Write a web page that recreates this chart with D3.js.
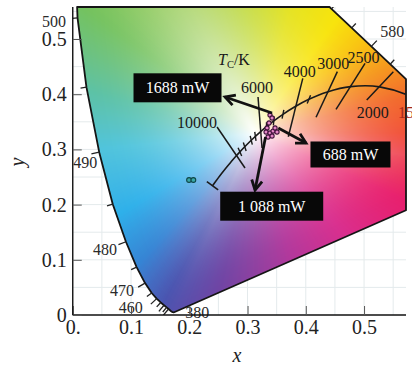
<!DOCTYPE html>
<html>
<head>
<meta charset="utf-8">
<script src="https://cdn.jsdelivr.net/npm/d3@7"></script>
<style>
  body { margin: 0; background: #fff; }
  svg { display: block; font-family: "Liberation Serif", "Times New Roman", serif; }
</style>
</head>
<body>
<div id="root"><svg width="412" height="367"></svg></div>
<script>
// CIE 1931 spectral locus (2 deg observer)
const locusNm = [380, 400, 420, 430, 440, 445, 450, 455, 460, 465, 470, 475, 480, 485, 490, 495, 500, 505, 510, 515,
  520, 525, 530, 535, 540, 545, 550, 555, 560, 565, 570, 575, 580, 585, 590, 595, 600, 605, 610, 615, 620, 630, 640, 650, 700];
const locusX = [0.1741, 0.1733, 0.1714, 0.1689, 0.1644, 0.1611, 0.1566, 0.1510, 0.1440, 0.1355, 0.1241, 0.1096, 0.0913, 0.0687, 0.0454, 0.0235, 0.0082, 0.0039, 0.0139, 0.0389,
  0.0743, 0.1142, 0.1547, 0.1929, 0.2296, 0.2658, 0.3016, 0.3373, 0.3731, 0.4087, 0.4441, 0.4788, 0.5125, 0.5448, 0.5752, 0.6029, 0.6270, 0.6482, 0.6658, 0.6801, 0.6915, 0.7079, 0.7190, 0.7260, 0.7347];
const locusY = [0.0050, 0.0048, 0.0051, 0.0069, 0.0109, 0.0138, 0.0177, 0.0227, 0.0297, 0.0399, 0.0578, 0.0868, 0.1327, 0.2007, 0.2950, 0.4127, 0.5384, 0.6548, 0.7502, 0.8120,
  0.8338, 0.8262, 0.8059, 0.7816, 0.7543, 0.7243, 0.6923, 0.6589, 0.6245, 0.5896, 0.5547, 0.5202, 0.4866, 0.4544, 0.4242, 0.3965, 0.3725, 0.3514, 0.3340, 0.3197, 0.3083, 0.2920, 0.2809, 0.2740, 0.2653];
const locusLabels = [380, 460, 470, 480, 490, 500, 580];

// Planckian locus
const planckT = [1000, 1500, 2000, 2500, 3000, 3500, 4000, 4500, 5000, 5500, 6000, 6500, 7000, 8000, 9000, 10000, 12000, 15000, 20000, 30000, Infinity];
const planckX = [0.6528, 0.5857, 0.5267, 0.4770, 0.4369, 0.4053, 0.3805, 0.3608, 0.3451, 0.3325, 0.3221, 0.3135, 0.3064, 0.2952, 0.2869, 0.2807, 0.2719, 0.2637, 0.2565, 0.2498, 0.2399];
const planckY = [0.3444, 0.3931, 0.4133, 0.4137, 0.4041, 0.3907, 0.3768, 0.3636, 0.3516, 0.3411, 0.3318, 0.3237, 0.3166, 0.3048, 0.2956, 0.2884, 0.2776, 0.2673, 0.2577, 0.2484, 0.2342];
const minorTemps = [3500, 4500, 5000, 5500, 6500, 7000, 8000, 9000];

// isotherm segments (lower end, upper end)
const isoTemps = ['10000', '6000', '4000', '3000', '2500', '2000'];
const isoX1 = [0.2957, 0.3249, 0.3700, 0.4176, 0.4519, 0.5046];
const isoY1 = [0.2663, 0.3025, 0.3230, 0.3582, 0.3726, 0.3895];
const isoX2 = [0.2477, 0.3180, 0.3948, 0.4542, 0.5017, 0.5503];
const isoY2 = [0.3406, 0.3949, 0.4288, 0.4408, 0.4560, 0.4408];

// measured points
const pinkX = [0.3386, 0.3421, 0.3369, 0.3335, 0.3318, 0.3386, 0.3438, 0.3472, 0.3506, 0.3352, 0.3421];
const pinkY = [0.3623, 0.3569, 0.3478, 0.3388, 0.3315, 0.3297, 0.3333, 0.3388, 0.3315, 0.3225, 0.3243];
const cyanX = [0.1996, 0.2070];
const cyanY = [0.2446, 0.2446];

// power callouts
const calloutText = ['1688 mW', '688 mW', '1 088 mW'];
const calloutX = [0.1798, 0.4767, 0.3415];
const calloutY = [0.4116, 0.2908, 0.1971];
const arrowFromX = [0.3421, 0.3528, 0.3309];
const arrowFromY = [0.3659, 0.3388, 0.3225];
const arrowToX = [0.2614, 0.4004, 0.3129];
const arrowToY = [0.3949, 0.3116, 0.2264];

const xTicks = [0, 0.1, 0.2, 0.3, 0.4, 0.5];
const xTickLabels = ['0.', '0.1', '0.2', '0.3', '0.4', '0.5'];
const yTicks = [0, 0.1, 0.2, 0.3, 0.4, 0.5];
const yTickLabels = ['0', '0.1', '0.2', '0.3', '0.4', '0.5'];

const xMax = 0.572, yMax = 0.558;
const pL = 72.75, pR = 406, pT = 7, pB = 315;

const svg = d3.select('#root svg');
const x = d3.scaleLinear().domain([0, xMax]).range([pL, pR]);
const y = d3.scaleLinear().domain([0, yMax]).range([pB, pT]);

const locus = locusNm.map((d, i) => ({nm: d, x: locusX[i], y: locusY[i]}));
const planck = planckT.map((d, i) => ({t: d, x: planckX[i], y: planckY[i]}));

svg.append('defs').append('clipPath').attr('id', 'plotclip')
  .append('rect').attr('x', pL).attr('y', pT).attr('width', pR - pL).attr('height', pB - pT);

// grid
const gridVals = d3.range(1, 12).map(k => k * 0.05);
const grid = svg.append('g').attr('stroke', '#e4eaec').attr('stroke-width', 1);
grid.selectAll('line.gx').data(gridVals.filter(v => v < xMax)).join('line').attr('class', 'gx')
  .attr('x1', d => x(d)).attr('x2', d => x(d)).attr('y1', pT).attr('y2', pB);
grid.selectAll('line.gy').data(gridVals.filter(v => v < yMax)).join('line').attr('class', 'gy')
  .attr('x1', pL).attr('x2', pR).attr('y1', d => y(d)).attr('y2', d => y(d));

// colour fill of the gamut
const wx = 0.3127, wy = 0.329;
const hueStops = [
  [0, '#f0452a'], [14, '#f2682a'], [28, '#f5981e'], [42, '#f9c412'], [56, '#f8e40c'], [75, '#e4e21c'],
  [95, '#bcd733'], [118, '#94c94a'], [142, '#74c25e'], [165, '#5cc2a6'], [186, '#50c4dc'], [212, '#2eb0ea'],
  [230, '#3584d4'], [243, '#4a54b0'], [258, '#7044a4'], [285, '#b2389c'], [310, '#d92e8e'], [335, '#e81e6c'],
  [350, '#ec2e44'], [360, '#f0452a']];
const hueBins = d3.range(720).map(k => {
  const a = k / 2;
  let j = 0;
  while (hueStops[j + 1][0] < a) j++;
  const s0 = hueStops[j], s1 = hueStops[j + 1];
  return d3.rgb(d3.interpolateLab(s0[1], s1[1])((a - s0[0]) / (s1[0] - s0[0])));
});
const edgeR = d3.range(720).map(k => {
  const a = k / 2 * Math.PI / 180, dx = Math.cos(a), dy = Math.sin(a);
  let best = Infinity;
  for (let i = 0; i < locus.length; i++) {
    const p = locus[i], q = locus[(i + 1) % locus.length];
    const ex = q.x - p.x, ey = q.y - p.y;
    const den = dx * ey - dy * ex;
    if (Math.abs(den) < 1e-12) continue;
    const ax = p.x - wx, ay = p.y - wy;
    const t = (ax * ey - ay * ex) / den;
    const u = (ax * dy - ay * dx) / den;
    if (t > 0 && u >= 0 && u <= 1) best = Math.min(best, t);
  }
  return best;
});
const polyPx = locus.map(d => [x(d.x), y(d.y)]);
const cv = document.createElement('canvas');
cv.width = 412; cv.height = 367;
const ctx = cv.getContext('2d');
const img = ctx.createImageData(412, 367);
for (let py = Math.floor(pT); py < pB; py++) {
  for (let px = Math.floor(pL); px < pR; px++) {
    if (!d3.polygonContains(polyPx, [px + 0.5, py + 0.5])) continue;
    const dx = x.invert(px + 0.5) - wx, dy = y.invert(py + 0.5) - wy;
    let ang = Math.atan2(dy, dx) * 180 / Math.PI;
    if (ang < 0) ang += 360;
    const bin = Math.round(ang * 2) % 720;
    const s = Math.min(1, Math.hypot(dx, dy) / edgeR[bin]);
    const t = 1 - (1 - s) * (1 - s);
    const c = hueBins[bin];
    const o = (py * 412 + px) * 4;
    img.data[o] = 255 * (1 - t) + c.r * t;
    img.data[o + 1] = 255 * (1 - t) + c.g * t;
    img.data[o + 2] = 255 * (1 - t) + c.b * t;
    img.data[o + 3] = 255;
  }
}
ctx.putImageData(img, 0, 0);
svg.append('image').attr('href', cv.toDataURL()).attr('x', 0).attr('y', 0).attr('width', 412).attr('height', 367)
  .attr('clip-path', 'url(#plotclip)');

// outline of the clipped gamut
function clipEdge(pts, inside, cut) {
  const out = [];
  pts.forEach((p, i) => {
    const q = pts[(i + 1) % pts.length];
    const pin = inside(p), qin = inside(q);
    if (pin) out.push(p);
    if (pin !== qin) out.push(cut(p, q));
  });
  return out;
}
let outline = locus.map(d => [d.x, d.y]);
outline = clipEdge(outline, p => p[1] <= yMax, (p, q) => { const k = (yMax - p[1]) / (q[1] - p[1]); return [p[0] + k * (q[0] - p[0]), yMax]; });
outline = clipEdge(outline, p => p[0] <= xMax, (p, q) => { const k = (xMax - p[0]) / (q[0] - p[0]); return [xMax, p[1] + k * (q[1] - p[1])]; });
svg.append('path')
  .attr('d', d3.line().x(d => x(d[0])).y(d => y(d[1]))(outline) + 'Z')
  .attr('fill', 'none').attr('stroke', '#151515').attr('stroke-width', 1.8).attr('stroke-linejoin', 'round');

// wavelength ticks
const wl = svg.append('g').attr('clip-path', 'url(#plotclip)');
const wlTicks = [];
locus.forEach((d, i) => {
  if (d.nm < 440 || d.nm > 620 || d.nm % 5) return;
  const p0 = locus[i - 1], p1 = locus[i + 1];
  const tx = x(p1.x) - x(p0.x), ty = y(p1.y) - y(p0.y);
  const len = Math.hypot(tx, ty);
  let nx = ty / len, ny = -tx / len;
  const px = x(d.x), py = y(d.y);
  if (nx * (px - x(wx)) + ny * (py - y(wy)) < 0) { nx = -nx; ny = -ny; }
  const L = d.nm % 10 === 0 ? 8 : 6;
  wlTicks.push({x1: px, y1: py, x2: px + nx * L, y2: py + ny * L});
});
wl.selectAll('line').data(wlTicks).join('line')
  .attr('x1', d => d.x1).attr('y1', d => d.y1).attr('x2', d => d.x2).attr('y2', d => d.y2)
  .attr('stroke', '#222').attr('stroke-width', 1.3);

const nmLabelOffset = {380: [11, 6, 'start'], 460: [-14, 14.5, 'end'], 470: [-11, 13, 'end'], 480: [-9, 13.5, 'end'],
  490: [-2, 15.5, 'end'], 500: [-11.5, 9, 'end'], 580: [9, -9, 'start']};
svg.append('g').selectAll('text').data(locus.filter(d => locusLabels.includes(d.nm))).join('text')
  .attr('x', d => x(d.x) + nmLabelOffset[d.nm][0])
  .attr('y', d => y(d.y) + nmLabelOffset[d.nm][1])
  .attr('text-anchor', d => nmLabelOffset[d.nm][2])
  .attr('font-size', 16).attr('fill', '#2a2a2a')
  .text(d => d.nm);

// Planckian locus
const pl = svg.append('g').attr('clip-path', 'url(#plotclip)');
pl.append('path')
  .attr('d', d3.line().x(d => x(d.x)).y(d => y(d.y)).curve(d3.curveCatmullRom.alpha(0.5))(planck))
  .attr('fill', 'none').attr('stroke', '#1a1a1a').attr('stroke-width', 1.6);

const toUV = (a, b) => { const d = -2 * a + 12 * b + 3; return [4 * a / d, 6 * b / d]; };
const toXY = (u, v) => { const d = 2 * u - 8 * v + 4; return [3 * u / d, 2 * v / d]; };
const minorTicks = minorTemps.map(T => {
  const i = planckT.indexOf(T);
  const a = toUV(planck[i - 1].x, planck[i - 1].y), b = toUV(planck[i + 1].x, planck[i + 1].y);
  const c = toUV(planck[i].x, planck[i].y);
  const tu = b[0] - a[0], tv = b[1] - a[1], tl = Math.hypot(tu, tv);
  const q = toXY(c[0] - tv / tl * 0.01, c[1] + tu / tl * 0.01);
  const px = x(planck[i].x), py = y(planck[i].y);
  let dx = x(q[0]) - px, dy = y(q[1]) - py;
  const l = Math.hypot(dx, dy);
  dx /= l; dy /= l;
  return {x1: px - dx * 4.5, y1: py - dy * 4.5, x2: px + dx * 4.5, y2: py + dy * 4.5};
});
pl.selectAll('line.minor').data(minorTicks).join('line').attr('class', 'minor')
  .attr('x1', d => d.x1).attr('y1', d => d.y1).attr('x2', d => d.x2).attr('y2', d => d.y2)
  .attr('stroke', '#1a1a1a').attr('stroke-width', 1.4);

// end bar at infinite temperature
{
  const n = planck.length;
  const a = planck[n - 2], b = planck[n - 1];
  const tx = x(b.x) - x(a.x), ty = y(b.y) - y(a.y);
  const l = Math.hypot(tx, ty);
  const nx = -ty / l, ny = tx / l;
  pl.append('line')
    .attr('x1', x(b.x) + nx * 7).attr('y1', y(b.y) + ny * 7)
    .attr('x2', x(b.x) - nx * 7).attr('y2', y(b.y) - ny * 7)
    .attr('stroke', '#1a1a1a').attr('stroke-width', 1.6);
}

// isotherms
const iso = isoTemps.map((t, i) => ({t, x1: isoX1[i], y1: isoY1[i], x2: isoX2[i], y2: isoY2[i]}));
svg.append('g').selectAll('line').data(iso).join('line')
  .attr('x1', d => x(d.x1)).attr('y1', d => y(d.y1)).attr('x2', d => x(d.x2)).attr('y2', d => y(d.y2))
  .attr('stroke', '#1a1a1a').attr('stroke-width', 1.5);
const isoLabelPos = {'10000': [2, 0, 1, 'end'], '6000': [2, -1, -4, 'middle'], '4000': [2, -3, -1, 'middle'],
  '3000': [2, -4, -3, 'middle'], '2500': [2, -1.5, 0, 'middle'], '2000': [1, 6, 18, 'middle']};
svg.append('g').selectAll('text').data(iso).join('text')
  .attr('x', d => (isoLabelPos[d.t][0] === 2 ? x(d.x2) : x(d.x1)) + isoLabelPos[d.t][1])
  .attr('y', d => (isoLabelPos[d.t][0] === 2 ? y(d.y2) : y(d.y1)) + isoLabelPos[d.t][2])
  .attr('text-anchor', d => isoLabelPos[d.t][3])
  .attr('font-size', 16).attr('fill', '#1a1a1a')
  .text(d => d.t);
svg.append('text').attr('x', 398).attr('y', 118).attr('font-size', 16).attr('fill', '#a52a1c').text('1500');

const tcLabel = svg.append('text').attr('x', 218).attr('y', 65).attr('font-size', 16).attr('fill', '#1a1a1a');
tcLabel.append('tspan').attr('font-style', 'italic').text('T');
tcLabel.append('tspan').attr('font-size', 10.5).attr('dy', 3).text('C');
tcLabel.append('tspan').attr('dy', -3).text('/K');

// measured points
svg.append('g').selectAll('circle').data(pinkX.map((v, i) => [v, pinkY[i]])).join('circle')
  .attr('cx', d => x(d[0])).attr('cy', d => y(d[1])).attr('r', 2.1)
  .attr('fill', '#e486c8').attr('stroke', '#40103c').attr('stroke-width', 1.1);
svg.append('g').selectAll('circle').data(cyanX.map((v, i) => [v, cyanY[i]])).join('circle')
  .attr('cx', d => x(d[0])).attr('cy', d => y(d[1])).attr('r', 2.4)
  .attr('fill', '#3aa8a8').attr('stroke', '#0e4646').attr('stroke-width', 1.1);

// arrows and callouts
const boxSize = [[88, 29], [80, 26], [103, 29]];
const ann = svg.append('g');
calloutText.forEach((t, i) => {
  const fx = x(arrowFromX[i]), fy = y(arrowFromY[i]), tx = x(arrowToX[i]), ty = y(arrowToY[i]);
  const a = Math.atan2(ty - fy, tx - fx), hl = 11, ha = 0.5;
  ann.append('line').attr('x1', fx).attr('y1', fy).attr('x2', tx).attr('y2', ty)
    .attr('stroke', '#111').attr('stroke-width', 2.8);
  ann.append('path')
    .attr('d', `M${tx - hl * Math.cos(a - ha)},${ty - hl * Math.sin(a - ha)}L${tx},${ty}L${tx - hl * Math.cos(a + ha)},${ty - hl * Math.sin(a + ha)}`)
    .attr('fill', 'none').attr('stroke', '#111').attr('stroke-width', 2.8).attr('stroke-linejoin', 'miter');
  const cx = x(calloutX[i]), cy = y(calloutY[i]), [bw, bh] = boxSize[i];
  ann.append('rect').attr('x', cx - bw / 2).attr('y', cy - bh / 2).attr('width', bw).attr('height', bh).attr('fill', '#080808');
  ann.append('text').attr('x', cx).attr('y', cy + 5.5).attr('text-anchor', 'middle')
    .attr('font-size', 16).attr('fill', '#fff').text(t);
});

// axes
const xAxis = d3.axisBottom(x).tickValues(xTicks).tickFormat((d, i) => xTickLabels[i])
  .tickSizeInner(-9).tickSizeOuter(0).tickPadding(5);
const gx = svg.append('g').attr('transform', `translate(0,${pB})`).call(xAxis);
const yAxis = d3.axisLeft(y).tickValues(yTicks).tickFormat((d, i) => yTickLabels[i])
  .tickSizeInner(-9).tickSizeOuter(0).tickPadding(6);
const gy = svg.append('g').attr('transform', `translate(${pL},0)`).call(yAxis);
[gx, gy].forEach(g => {
  g.select('.domain').attr('stroke', '#111').attr('stroke-width', 1.4);
  g.selectAll('.tick line').attr('stroke', '#555').attr('stroke-width', 1);
  g.selectAll('.tick text').attr('font-family', '"Liberation Serif", serif').attr('font-size', 20).attr('fill', '#222');
});
gx.select('.domain').attr('d', `M${pL},0H${pR}`);
gy.select('.domain').attr('d', `M0,${pB}V${pT}`);

svg.append('text').attr('x', 237).attr('y', 362).attr('text-anchor', 'middle')
  .attr('font-size', 20).attr('font-style', 'italic').attr('fill', '#222').text('x');
svg.append('text').attr('transform', 'translate(24,162) rotate(-90)').attr('text-anchor', 'middle')
  .attr('font-size', 20).attr('font-style', 'italic').attr('fill', '#222').text('y');
</script>
</body>
</html>
